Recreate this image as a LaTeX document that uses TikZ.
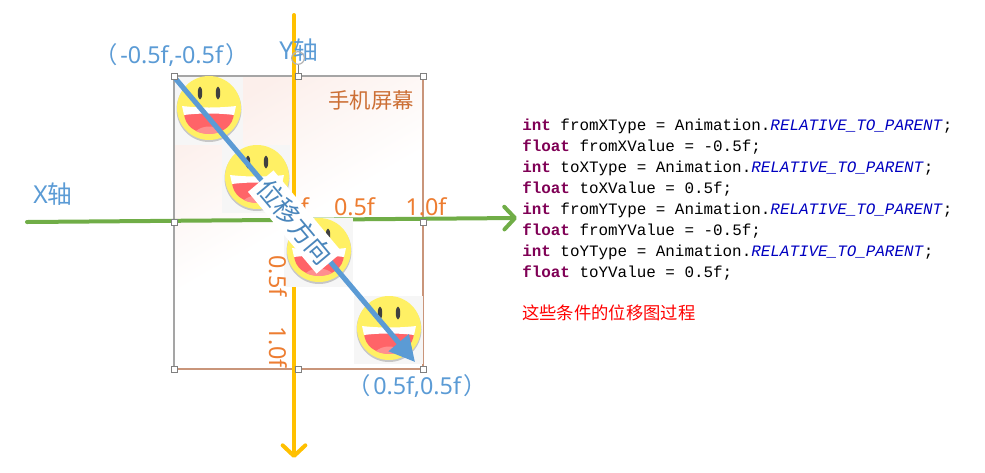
\documentclass[tikz,border=0pt]{standalone}
\usepackage{fontspec}
\setmainfont{Noto Sans}
\setmonofont{Liberation Mono}
\newfontfamily\cjk{Noto Sans CJK SC}
\usetikzlibrary{arrows.meta}
\definecolor{bluea}{HTML}{5B9BD5}
\definecolor{greena}{HTML}{70AD47}
\definecolor{yellowa}{HTML}{FFC000}
\definecolor{orangea}{HTML}{ED7D31}
\definecolor{screentxt}{HTML}{CC6F35}
\definecolor{labelblue}{HTML}{4A86BC}
\definecolor{kw}{HTML}{7F0055}
\definecolor{const}{HTML}{0000C0}
\definecolor{edgegray}{HTML}{A5A5A5}
\definecolor{edgeorange}{HTML}{C9957A}
\definecolor{mouthred}{HTML}{FF6468}
\definecolor{tongue}{HTML}{FF8F8F}
\definecolor{faceyellow}{HTML}{FFF064}
\definecolor{screentop}{HTML}{FCEFEB}
\definecolor{photobg}{HTML}{F6F6F6}
\newcommand{\kwd}[1]{\textcolor{kw}{\textbf{#1}}}
\newcommand{\rtp}{\textcolor{const}{\textit{RELATIVE\_TO\_PARENT}}}
\tikzset{
  smiley/.pic={
    \fill[black!22] (0,1.5) circle[radius=32.5];
    \fill[faceyellow] (0,0) circle[radius=32];
    \fill[mouthred] (-25,4) .. controls (-25,33) and (25,33) .. (25,4) -- cycle;
    \fill[tongue] (-13,23) .. controls (-6,17) and (6,17) .. (13,23) .. controls (6,27) and (-6,27) .. cycle;
    \fill[white] (-27,-2) .. controls (-10,0) and (10,0) .. (27,-2) -- (25,7) .. controls (10,5) and (-10,5) .. (-25,7) -- cycle;
    \fill[black!75] (-9,-15) ellipse[x radius=2.2,y radius=6.5];
    \fill[black!75] (9,-15) ellipse[x radius=2.2,y radius=6.5];
  },
  handle/.style={draw=gray,fill=white,line width=0.6pt,minimum size=4.5pt,inner sep=0pt,outer sep=0pt,rectangle},
  tick/.style={text=orangea,font=\fontsize{17.5pt}{19pt}\selectfont,inner sep=0pt},
  bluetxt/.style={text=bluea,font=\fontsize{17.5pt}{19pt}\selectfont,inner sep=0pt},
  axislabel/.style={text=bluea,font=\fontsize{18.5pt}{20pt}\selectfont,inner sep=0pt},
  codeline/.style={anchor=base west,inner sep=0pt,font=\ttfamily\fontsize{11.93pt}{14pt}\selectfont,text=black},
  axisline/.style={line width=3pt,line cap=round},
  barb/.style={-{Straight Barb[length=8pt,width=17pt,round]}},
}
\begin{document}
\begin{tikzpicture}[x=0.75pt,y=-0.75pt]
\useasboundingbox (0,0) rectangle (985,472);
% screen background
\shade[top color=screentop,bottom color=white,middle color=white,shading angle=30] (175,77) rectangle (422,368);
% frame
\coordinate (tl) at (174,76); \coordinate (tr) at (423,76);
\coordinate (bl) at (174,369); \coordinate (br) at (423,369);
\draw[edgegray,line width=1.5pt] (bl) -- (tl) -- (tr);
\draw[edgeorange,line width=1.5pt] (tr) -- (br) -- (bl);
% axes
\coordinate (xs) at (27,222); \coordinate (xe) at (517,218);
\coordinate (ys) at (294,15); \coordinate (ye) at (294,458);
\draw[axisline,greena,barb] (xs) -- (xe);
\draw[axisline,yellowa,barb] (ys) -- (ye);
% smileys
\fill[photobg] (175,77) rectangle (243,145);
\pic at (209,108) {smiley};
\fill[photobg] (222,145) rectangle (290,213);
\pic at (257,177) {smiley};
\fill[photobg] (284,218) rectangle (353,287);
\pic at (319,250) {smiley};
\fill[photobg] (354,296) rectangle (423,364);
\pic at (389,328) {smiley};
% tick labels
\node[tick] (ta) at (305,207) {f};
\node[tick] (tb) at (354.5,207) {0.5f};
\node[tick] (tc) at (426,207) {1.0f};
\node[tick,rotate=-90] (td) at (278,276) {0.5f};
\node[tick,rotate=-90] (te) at (278,347) {1.0f};
% direction arrow
\coordinate (as) at (175,78); \coordinate (ae) at (415,362);
\draw[bluea,line width=3.8pt,-{Triangle[length=19pt,width=19pt]}] (as) -- (ae);
\node[fill=white,rotate=-50,minimum width=80pt,minimum height=25pt,inner sep=0pt,text=labelblue,font=\cjk\fontsize{19pt}{21pt}\selectfont] (lab) at (295,222) {位移方向};
% handles
\foreach \n/\p in {a/{(174,76)},b/{(298,76)},c/{(423,76)},d/{(174,222)},e/{(423,222)},f/{(174,369)},g/{(298,369)},h/{(423,369)}}{
  \node[handle] (h\n) at \p {};
}
% texts
\node[bluetxt,anchor=base west] (pa) at (94,63) {{\cjk （}\kern2pt-0.5f,-0.5f\kern2pt{\cjk ）}};
\node[bluetxt,anchor=base west] (pb) at (347,394) {{\cjk （}\kern2pt0.5f,0.5f\kern2pt{\cjk ）}};
\node[axislabel,anchor=base west] (xl) at (33,203) {X{\cjk 轴}};
\node[axislabel,anchor=base west] (yl) at (279,59) {Y{\cjk 轴}};
\node[text=screentxt,inner sep=0pt,font=\cjk\fontsize{16pt}{18pt}\selectfont] (sc) at (371,100) {手机屏幕};
% rotate handle
\node[draw=gray!60,circle,line width=0.9pt,minimum size=9.5pt,inner sep=0pt] (rot) at (298,58) {};
\draw[gray,line width=0.6pt] (rot) -- (hb);
% code
\node[codeline] (l1) at (522,130) {\kwd{int} fromXType = Animation.\rtp;};
\node[codeline] (l2) at (522,151) {\kwd{float} fromXValue = -0.5f;};
\node[codeline] (l3) at (522,172) {\kwd{int} toXType = Animation.\rtp;};
\node[codeline] (l4) at (522,193) {\kwd{float} toXValue = 0.5f;};
\node[codeline] (l5) at (522,214) {\kwd{int} fromYType = Animation.\rtp;};
\node[codeline] (l6) at (522,235) {\kwd{float} fromYValue = -0.5f;};
\node[codeline] (l7) at (522,256) {\kwd{int} toYType = Animation.\rtp;};
\node[codeline] (l8) at (522,277) {\kwd{float} toYValue = 0.5f;};
\node[anchor=base west,inner sep=0pt,text=red,font=\cjk\fontsize{13pt}{15pt}\selectfont] (note) at (522,319) {这些条件的位移图过程};
\end{tikzpicture}
\end{document}
